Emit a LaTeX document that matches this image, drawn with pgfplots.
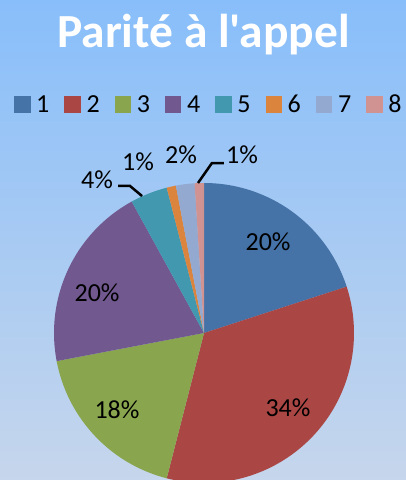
\documentclass[border=0pt]{standalone}
\usepackage{pgfplots}
\pgfplotsset{compat=1.18}
\usepackage{fontspec}
\setmainfont{Carlito}
\newfontfamily\titlefont{Carlito}
\definecolor{bgtop}{RGB}{136,190,250}
\definecolor{bgbot}{RGB}{198,214,236}
\definecolor{c1}{RGB}{69,114,167}
\definecolor{c2}{RGB}{170,70,67}
\definecolor{c3}{RGB}{137,165,78}
\definecolor{c4}{RGB}{113,88,143}
\definecolor{c5}{RGB}{65,152,175}
\definecolor{c6}{RGB}{219,132,61}
\definecolor{c7}{RGB}{147,169,207}
\definecolor{c8}{RGB}{209,147,146}
\newcommand{\lbl}{\fontsize{26}{30}\selectfont}
\begin{document}
\begin{tikzpicture}[x=1pt,y=1pt]
\useasboundingbox (0,0) rectangle (406,480);
\clip (0,0) rectangle (406,480);
\shade[top color=bgtop, bottom color=bgbot] (0,0) rectangle (406,480);
% title
\node[anchor=base, text=white, inner sep=0, font=\titlefont\fontsize{47.5}{52}\selectfont\bfseries] at (203.5,432) {Parité à l'appel};
% legend
\foreach \i/\c in {0/c1,1/c2,2/c3,3/c4,4/c5,5/c6,6/c7,7/c8}{
  \fill[\c] (14+50.3*\i,367) rectangle (30.5+50.3*\i,384);
  \pgfmathtruncatemacro{\n}{\i+1}
  \node[anchor=base west, inner sep=0, font=\lbl] at (36+50.3*\i,367) {\n};
}
\begin{axis}[at={(204pt,147pt)}, anchor=center, width=300pt, height=300pt,
  scale only axis, xmin=-1, xmax=1, ymin=-1, ymax=1, hide axis, clip=false]
% cumulative shares (%): 0,20,54,72,92,96,97,99,100 ; values 20,34,18,20,4,1,2,1
\addplot[fill=c1, draw=none, domain=0:20, samples=60] ({cos(90-3.6*x)},{sin(90-3.6*x)}) -- (0,0) -- cycle;
\addplot[fill=c2, draw=none, domain=20:54, samples=90] ({cos(90-3.6*x)},{sin(90-3.6*x)}) -- (0,0) -- cycle;
\addplot[fill=c3, draw=none, domain=54:72, samples=60] ({cos(90-3.6*x)},{sin(90-3.6*x)}) -- (0,0) -- cycle;
\addplot[fill=c4, draw=none, domain=72:92, samples=60] ({cos(90-3.6*x)},{sin(90-3.6*x)}) -- (0,0) -- cycle;
\addplot[fill=c5, draw=none, domain=92:96, samples=20] ({cos(90-3.6*x)},{sin(90-3.6*x)}) -- (0,0) -- cycle;
\addplot[fill=c6, draw=none, domain=96:97, samples=10] ({cos(90-3.6*x)},{sin(90-3.6*x)}) -- (0,0) -- cycle;
\addplot[fill=c7, draw=none, domain=97:99, samples=10] ({cos(90-3.6*x)},{sin(90-3.6*x)}) -- (0,0) -- cycle;
\addplot[fill=c8, draw=none, domain=99:100, samples=10] ({cos(90-3.6*x)},{sin(90-3.6*x)}) -- (0,0) -- cycle;
% leader lines
\addplot[black, line width=2.5pt, no markers] coordinates {(-0.573,0.98) (-0.493,0.98) (-0.413,0.913)};
\addplot[black, line width=2.5pt, no markers] coordinates {(0.133,1.133) (0.053,1.133) (-0.04,1.0)};
% labels
\node[font=\lbl] at (0.427,0.607) {20\%};
\node[font=\lbl] at (0.56,-0.5) {34\%};
\node[font=\lbl] at (-0.58,-0.513) {18\%};
\node[font=\lbl] at (-0.713,0.267) {20\%};
\node[font=\lbl] at (-0.713,1.02) {4\%};
\node[font=\lbl] at (-0.44,1.14) {1\%};
\node[font=\lbl] at (-0.153,1.187) {2\%};
\node[font=\lbl] at (0.253,1.187) {1\%};
\end{axis}
\end{tikzpicture}
\end{document}
